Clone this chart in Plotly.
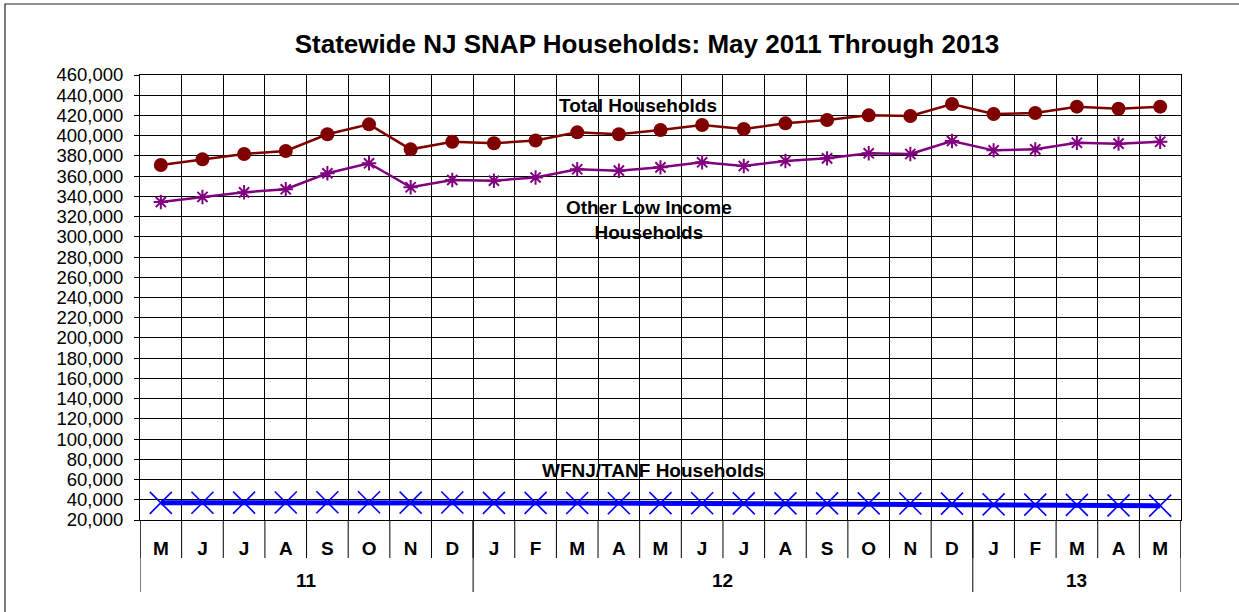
import plotly.graph_objects as go

months = ["M","J","J","A","S","O","N","D","J","F","M","A","M","J","J","A","S","O","N","D","J","F","M","A","M"]
years = ["11"]*8 + ["12"]*12 + ["13"]*5
keys = [f"{y}-{i}" for i, y in enumerate(years)]

total = [371000, 376600, 381900, 384900, 401400, 411200, 386500, 394000, 392500, 395200,
         403300, 401400, 405600, 410600, 406600, 412200, 415500, 420100, 419500, 431300,
         421400, 422400, 428700, 426700, 428700]
other = [334400, 339400, 344000, 347000, 362800, 372700, 349000, 356200, 355500, 358700,
         366800, 365400, 368700, 373700, 370000, 375000, 377600, 382600, 381900, 394700,
         385500, 386500, 393000, 392100, 394000]
wfnj = [37000, 37100, 37200, 37300, 37500, 37600, 37200, 37300, 37000, 36900,
        36800, 36600, 36700, 36600, 36500, 36500, 36400, 36400, 36300, 36200,
        35400, 35200, 34900, 34500, 34200]

FONT = "Arial, Liberation Sans, sans-serif"
FS = 19

fig = go.Figure()
fig.add_trace(go.Scatter(x=keys, y=wfnj, mode="lines+markers", name="WFNJ/TANF Households",
                         line=dict(color="#0000FF", width=5),
                         marker=dict(symbol="x-thin-open", size=22,
                                     line=dict(color="#4A78FF", width=1.6))))
fig.add_trace(go.Scatter(x=keys, y=other, mode="lines+markers", name="Other Low Income Households",
                         line=dict(color="#800080", width=2.5),
                         marker=dict(symbol="asterisk-open", size=12,
                                     line=dict(color="#800080", width=2))))
fig.add_trace(go.Scatter(x=keys, y=total, mode="lines+markers", name="Total Households",
                         line=dict(color="#800000", width=2.5),
                         marker=dict(symbol="circle", size=14, color="#800000")))

n = len(keys)
shapes = []
# month dividers below axis
for i in range(n + 1):
    shapes.append(dict(type="line", xref="x", yref="paper", x0=i - 0.5, x1=i - 0.5,
                       y0=0, y1=-38/445, line=dict(color="black", width=1)))
# year dividers
bounds = [0] + [i for i in range(1, n) if years[i] != years[i-1]] + [n]
for b in bounds:
    shapes.append(dict(type="line", xref="x", yref="paper", x0=b - 0.5, x1=b - 0.5,
                       y0=0, y1=-72/445, line=dict(color="black", width=1)))
# outer chart border (cropped at right and bottom like the reference)
shapes.append(dict(type="rect", xref="paper", yref="paper", x0=-135/1041, x1=1120/1041,
                   y0=-110/445, y1=1 + 71/445, line=dict(color="#222222", width=1.2)))

annotations = []
for a, b in zip(bounds[:-1], bounds[1:]):
    annotations.append(dict(x=(a + b - 1) / 2, y=-60/445, xref="x", yref="paper",
                            xanchor="center", yanchor="middle",
                            text=f"<b>{years[a]}</b>", showarrow=False,
                            font=dict(family=FONT, size=FS, color="black")))
annotations += [
    dict(x=11.47, y=429500, xref="x", yref="y", text="<b>Total Households</b>", showarrow=False,
         xanchor="center", yanchor="middle", font=dict(family=FONT, size=FS, color="black")),
    dict(x=11.72, y=317000, xref="x", yref="y", text="<b>Other Low Income<br>Households</b>",
         xanchor="center", yanchor="middle",
         showarrow=False, font=dict(family=FONT, size=FS, color="black")),
    dict(x=11.82, y=68800, xref="x", yref="y", text="<b>WFNJ/TANF Households</b>", showarrow=False,
         xanchor="center", yanchor="middle", font=dict(family=FONT, size=FS, color="black")),
]

fig.update_layout(
    width=1239, height=612,
    margin=dict(l=140, r=58, t=75, b=92),
    paper_bgcolor="white", plot_bgcolor="white",
    showlegend=False,
    title=dict(text="<b>Statewide NJ SNAP Households: May 2011 Through 2013</b>",
               x=647/1239, xanchor="center", y=1 - 44/612, yanchor="middle",
               font=dict(family=FONT, size=26, color="black")),
    shapes=shapes, annotations=annotations,
    font=dict(family=FONT, color="black"),
)
fig.update_xaxes(type="category", tickvals=keys, ticktext=[f"<b>{m}</b>" for m in months],
                 tickson="boundaries", showgrid=True, gridcolor="black", gridwidth=1,
                 ticks="", ticklabelstandoff=11, tickfont=dict(family=FONT, size=FS, color="black"),
                 showline=True, linecolor="black", mirror=True, range=[-0.5, n - 0.5],
                 automargin=False, zeroline=False)
fig.update_yaxes(range=[20000, 460000], dtick=20000, tick0=20000, tickformat=",",
                 showgrid=True, gridcolor="black", gridwidth=1,
                 ticks="outside", ticklen=5, tickcolor="black", ticklabelstandoff=7,
                 tickfont=dict(family=FONT, size=18.5, color="black"),
                 showline=True, linecolor="black", mirror=True, automargin=False, zeroline=False)

fig.write_html("out.html", post_script="document.body.style.margin='0';",
               config={"displayModeBar": False})
